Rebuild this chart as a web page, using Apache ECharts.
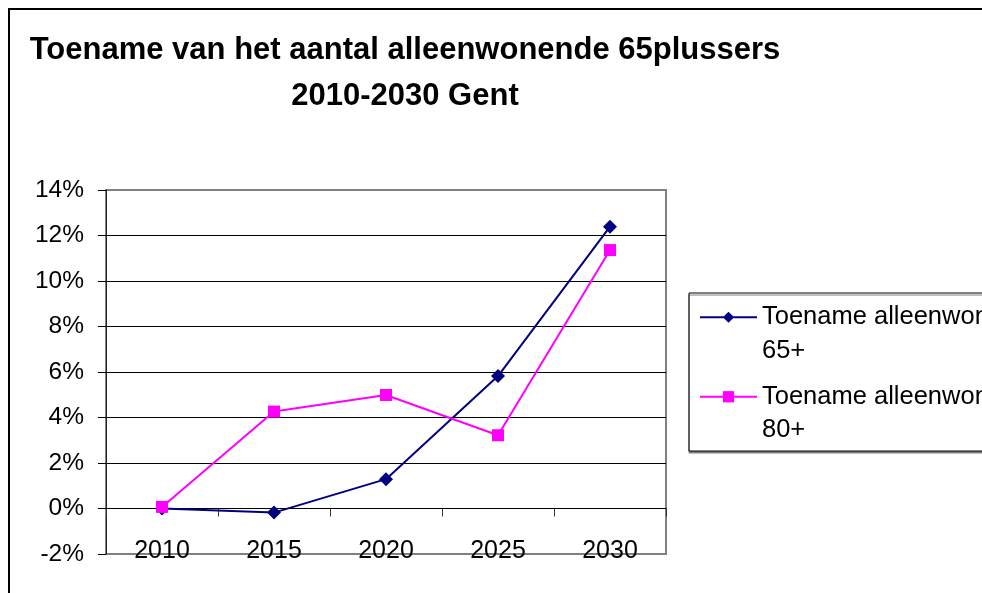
<!DOCTYPE html>
<html>
<head>
<meta charset="utf-8">
<script src="https://cdn.jsdelivr.net/npm/echarts@6/dist/echarts.min.js"></script>
<style>html,body{margin:0;padding:0;background:#fff}#c{width:982px;height:593px}</style>
</head>
<body>
<div id="c"></div>
<script>
const titleLines = ['Toename van het aantal alleenwonende 65plussers', '2010-2030 Gent'];
const categories = ['2010', '2015', '2020', '2025', '2030'];
const seriesNames = ['Toename alleenwonenden\n65+', 'Toename alleenwonenden\n80+'];
const values65 = [0.0, -0.18, 1.29, 5.82, 12.39];
const values80 = [0.07, 4.26, 4.99, 3.22, 11.36];
const yMin = -2, yMax = 14, yStep = 2;

const FONT = '"Liberation Sans", Arial, sans-serif';
const chart = echarts.init(document.getElementById('c'), null, {renderer: 'canvas'});
chart.setOption({
  animation: false,
  backgroundColor: '#fff',
  textStyle: {fontFamily: FONT},
  graphic: [
    {type: 'rect', z: -10, silent: true, shape: {x: 9, y: 9, width: 1100, height: 700},
     style: {fill: 'none', stroke: '#000', lineWidth: 2}},
    {type: 'text', x: 405, y: 50, silent: true,
     style: {text: titleLines[0], fontFamily: FONT, fontWeight: 'bold', fontSize: 31, fill: '#000', align: 'center', verticalAlign: 'middle'}},
    {type: 'text', x: 405, y: 96, silent: true,
     style: {text: titleLines[1], fontFamily: FONT, fontWeight: 'bold', fontSize: 31, fill: '#000', align: 'center', verticalAlign: 'middle'}},
    {type: 'rect', z: -5, silent: true, shape: {x: 689, y: 293, width: 400, height: 158},
     style: {fill: '#fff', stroke: '#000', lineWidth: 1, shadowColor: '#808080', shadowOffsetX: 0, shadowOffsetY: 2, shadowBlur: 0}}
  ],
  grid: {left: 106, top: 190, right: 316, bottom: 39, outerBoundsMode: 'none', containLabel: false,
         show: true, borderColor: '#808080', borderWidth: 2, backgroundColor: 'transparent'},
  legend: {
    orient: 'vertical', left: 699, top: 267, padding: 0, itemGap: -21,
    itemWidth: 57, itemHeight: 14,
    formatter: function (n) { return '\n' + n; },
    textStyle: {fontFamily: FONT, fontSize: 25.5, color: '#000', lineHeight: 33.5},
    data: seriesNames
  },
  xAxis: {
    type: 'category', data: categories, boundaryGap: true,
    axisLine: {onZero: true, lineStyle: {color: '#000', width: 1}},
    axisTick: {show: true, length: 8, lineStyle: {color: '#333'}},
    axisLabel: {fontFamily: FONT, fontSize: 25, color: '#000', margin: -15},
    splitLine: {show: false}
  },
  yAxis: {
    type: 'value', min: yMin, max: yMax, interval: yStep,
    axisLine: {show: true, lineStyle: {color: '#222', width: 1}},
    axisTick: {show: true, length: 8, lineStyle: {color: '#000'}},
    axisLabel: {fontFamily: FONT, fontSize: 24.5, color: '#000', margin: 22, formatter: '{value}%'},
    splitLine: {show: true, showMinLine: false, showMaxLine: false, lineStyle: {color: '#000', width: 1}}
  },
  series: [
    {name: seriesNames[0], type: 'line', data: values65, symbol: 'diamond', symbolSize: 14,
     lineStyle: {color: '#000080', width: 2}, itemStyle: {color: '#000080'}},
    {name: seriesNames[1], type: 'line', data: values80, symbol: 'rect', symbolSize: 12,
     lineStyle: {color: '#FF00FF', width: 2}, itemStyle: {color: '#FF00FF'}}
  ]
});
</script>
</body>
</html>
